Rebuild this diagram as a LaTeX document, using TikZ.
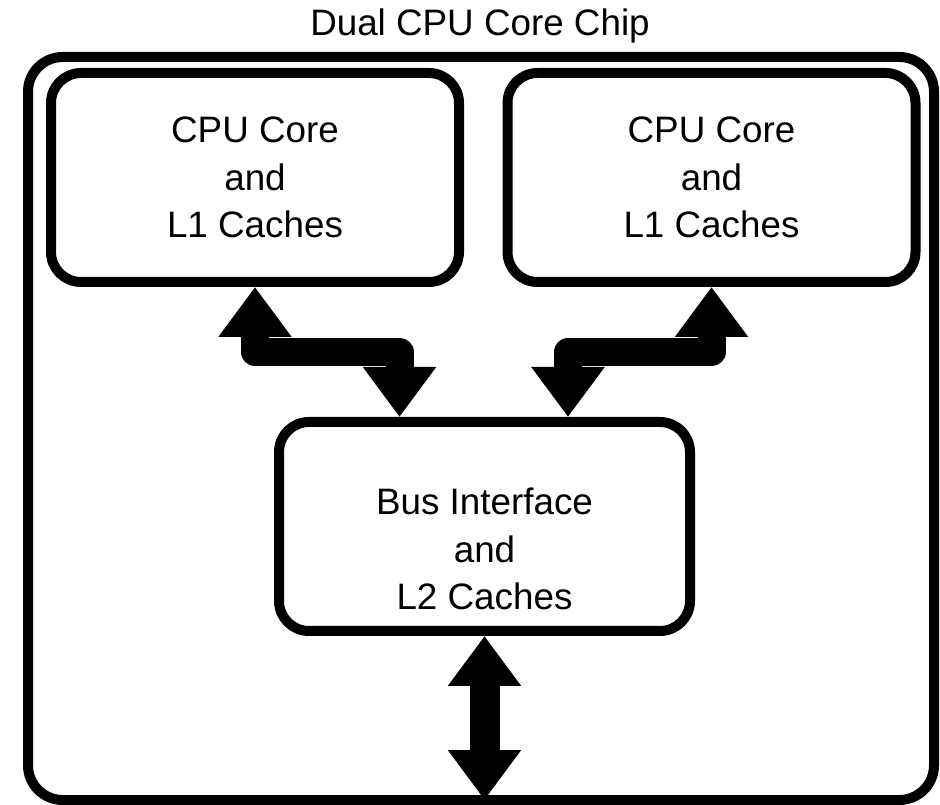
\documentclass[tikz,border=0pt]{standalone}
\usepackage{fontspec}
\setmainfont{Liberation Sans}
\usetikzlibrary{arrows.meta}

\tikzset{
  lbl/.style={font=\fontsize{27.6}{35.5}\selectfont, align=center},
  block/.style={draw=black, line width=7.5pt, rounded corners=22.5pt,
    fill=white, lbl},
  cpubox/.style={block, minimum width=306pt, minimum height=156.75pt},
  busbox/.style={block, minimum width=308.25pt, minimum height=156.75pt},
  chipbox/.style={draw=black, line width=7.5pt, rounded corners=26pt,
    minimum width=679.5pt, minimum height=557.25pt, outer sep=0pt},
  bigtip/.tip={Triangle[length=37.5pt, width=52.5pt]},
  conn/.style={draw=black, line width=21pt, line join=round,
    {bigtip}-{bigtip}},
}

\begin{document}
\begin{tikzpicture}[x=0.75pt, y=-0.75pt]
  \useasboundingbox (0,0) rectangle (940,805);

  % chip outline and title
  \node[chipbox] (chip) at (481,428.5) {};
  \node[lbl] (title) at (480,26) {Dual CPU Core Chip};

  % the two cores and the shared bus interface
  \node[cpubox] (cpuL) at (255,177.5) {CPU Core\\and\\L1 Caches};
  \node[cpubox] (cpuR) at (711.5,177.5) {CPU Core\\and\\L1 Caches};
  \node[busbox] (bus) at (484.5,526.5) {};
  \node[lbl] (bustext) at (484.5,549) {Bus Interface\\and\\L2 Caches};

  % bends of the core-to-bus links
  \coordinate (jl) at (399.5,352);
  \coordinate (jr) at (568,352);

  \draw[conn] (cpuL.south) |- (jl) -- (jl |- bus.north);
  \draw[conn] (cpuR.south) |- (jr) -- (jr |- bus.north);
  \draw[conn, line width=22.5pt] (bus.south) -- (bus.south |- chip.south);
\end{tikzpicture}
\end{document}
